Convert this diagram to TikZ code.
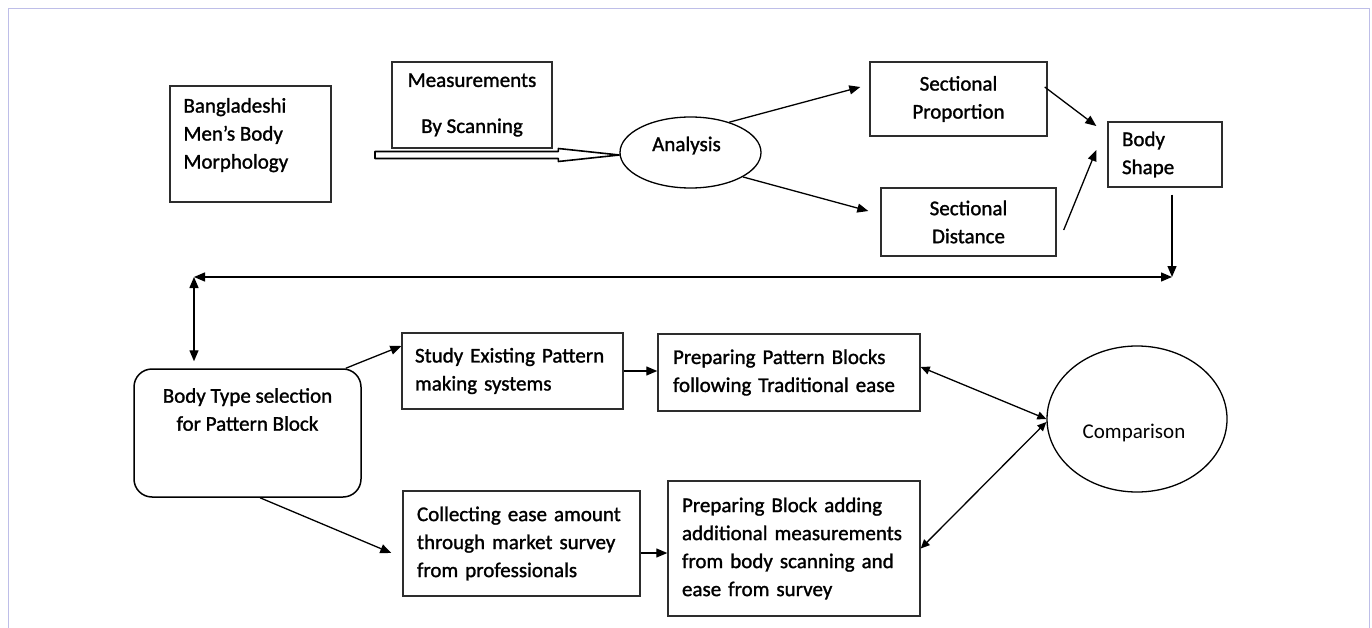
\documentclass[tikz,border=0pt]{standalone}
\usepackage{fontspec}
\setmainfont{Carlito}
\newfontfamily\boxfont{Carlito}[FakeBold=1.3]
\usetikzlibrary{arrows.meta,calc,shapes.geometric}
\definecolor{framecol}{RGB}{190,190,232}
\definecolor{edgecol}{RGB}{45,45,45}

\begin{document}
\begin{tikzpicture}[x=1pt,y=-1pt,
    box/.style={draw=edgecol,line width=1.4pt,rectangle,inner sep=0pt,
        font=\boxfont\fontsize{21}{28}\selectfont},
    rbox/.style={draw=black,line width=1.5pt,rectangle,rounded corners=18pt,inner sep=0pt},
    oval/.style={draw=black,line width=1.3pt,ellipse,inner sep=0pt},
    txt/.style={inner sep=0pt,font=\boxfont\fontsize{21}{28}\selectfont},
    arr/.style={-{Triangle[length=11pt,width=9pt]},line width=1.3pt},
    arrtwo/.style={{Triangle[length=11pt,width=9pt]}-{Triangle[length=11pt,width=9pt]},line width=1.3pt},
    arrcmp/.style={{Triangle[length=9pt,width=8pt]}-{Triangle[length=9pt,width=8pt]},line width=1.3pt},
    dblarrow/.style={draw=black,line width=1.6pt,fill=white,line join=round}]
    \useasboundingbox (0,0) rectangle (1372,628);
    %% Page frame
    \draw[framecol,line width=1pt] (8,628) -- (8,9) -- (1369,9) -- (1369,628);

    %% Top row
    \node[box,minimum width=161pt,minimum height=116pt] (bdm) at (250.5,144) {};
    \node[txt,align=left,anchor=north west] (bdm-t) at ([xshift=14pt,yshift=-12.5pt]bdm.north west)
        {Bangladeshi\\Men’s Body\\Morphology};
    \node[box,align=center,minimum width=160pt,minimum height=86pt] (meas) at (472,105)
        {Measurements\\[18pt]By Scanning};
    \node[oval,minimum width=141pt,minimum height=71pt] (ana) at (690.5,152.5) {};
    \node[txt] (ana-t) at ([xshift=-4pt,yshift=7pt]ana) {Analysis};
    \node[box,align=center,minimum width=177pt,minimum height=74pt] (sprop) at (958.5,99)
        {Sectional\\Proportion};
    \node[box,align=center,minimum width=175pt,minimum height=68pt] (sdist) at (968.5,222)
        {Sectional\\Distance};
    \node[box,align=left,text width=86pt,inner xsep=14pt,minimum height=65pt] (bshape) at (1165,154.5)
        {Body\\Shape};

    %% Bottom rows
    \node[rbox,minimum width=227pt,minimum height=128pt] (btype) at (247.5,433) {};
    \node[txt,align=center] (btype-t) at ([yshift=23.5pt]btype)
        {Body Type selection\\for Pattern Block};
    \node[box,align=left,text width=195pt,inner xsep=13pt,minimum height=76pt] (study) at (512.5,371)
        {Study Existing Pattern\\making systems};
    \node[box,align=left,text width=232pt,inner xsep=15pt,minimum height=77pt] (prep1) at (789,372.5)
        {Preparing Pattern Blocks\\following Traditional ease};
    \node[box,align=left,text width=209pt,inner xsep=14pt,minimum height=105pt] (collect) at (521.5,543.5)
        {Collecting ease amount\\through market survey\\from professionals};
    \node[box,align=left,text width=224pt,inner xsep=14pt,minimum height=135pt] (prep2) at (794,548.5)
        {Preparing Block adding\\additional measurements\\from body scanning and\\ease from survey};
    \node[oval,minimum width=180pt,minimum height=146pt] (cmp) at (1137,419) {};
    \node[txt,font=\fontsize{21}{28}\selectfont] (cmp-t) at ([xshift=-3pt,yshift=-14pt]cmp) {Comparison};

    %% Free ends
    \coordinate (scan-in) at (375,155);
    \coordinate (scan-out) at ([yshift=-2.5pt]ana.west);
    \coordinate (bend-l) at (194,277);
    \coordinate (bend-r) at (1172,277);

    %% Scanning input
    \draw[dblarrow] ($(scan-in)+(0,-3.5)$) -- ($(scan-out)+(-61,-3.5)$) -- ($(scan-out)+(-61,-6.5)$)
        -- (scan-out) -- ($(scan-out)+(-61,6.5)$) -- ($(scan-out)+(-61,3.5)$)
        -- ($(scan-in)+(0,3.5)$) -- cycle;
    %% Analysis
    \draw[arr] (ana.38) -- ([xshift=-9pt,yshift=12pt]sprop.west);
    \draw[arr] (ana.-25) -- ([xshift=-12pt,yshift=11pt]sdist.west);
    \draw[arr] ([xshift=-3pt,yshift=12pt]sprop.east) -- ([xshift=-11pt,yshift=28.5pt]bshape.west);
    \draw[arr] ([xshift=7pt,yshift=-8pt]sdist.east) -- ([xshift=-11pt,yshift=4.5pt]bshape.west);
    %% Feedback line
    \draw[arr] ([xshift=7pt,yshift=-7pt]bshape.south) -- (bend-r);
    \draw[arrtwo] (bend-l) -- (bend-r);
    \draw[arrtwo,shorten >=7pt] (bend-l) -- (bend-l |- btype.north);
    %% Pattern blocks
    \draw[arr] ([xshift=-16pt]btype.north east) -- ([yshift=25pt]study.west);
    \draw[arr] ([xshift=12.5pt]btype.south) -- ([xshift=-11pt,yshift=-9.5pt]collect.west);
    \draw[arr] (study.east) -- (study.east -| prep1.west);
    \draw[arr] ($(collect.east)+(0,9.5)$) -- ($(collect.east -| prep2.west)+(0,9.5)$);
    \draw[arrcmp] ([yshift=5.5pt]prep1.east) -- (cmp.west);
    \draw[arrcmp] (prep2.east) -- ([yshift=-3pt]cmp.west);
\end{tikzpicture}
\end{document}
